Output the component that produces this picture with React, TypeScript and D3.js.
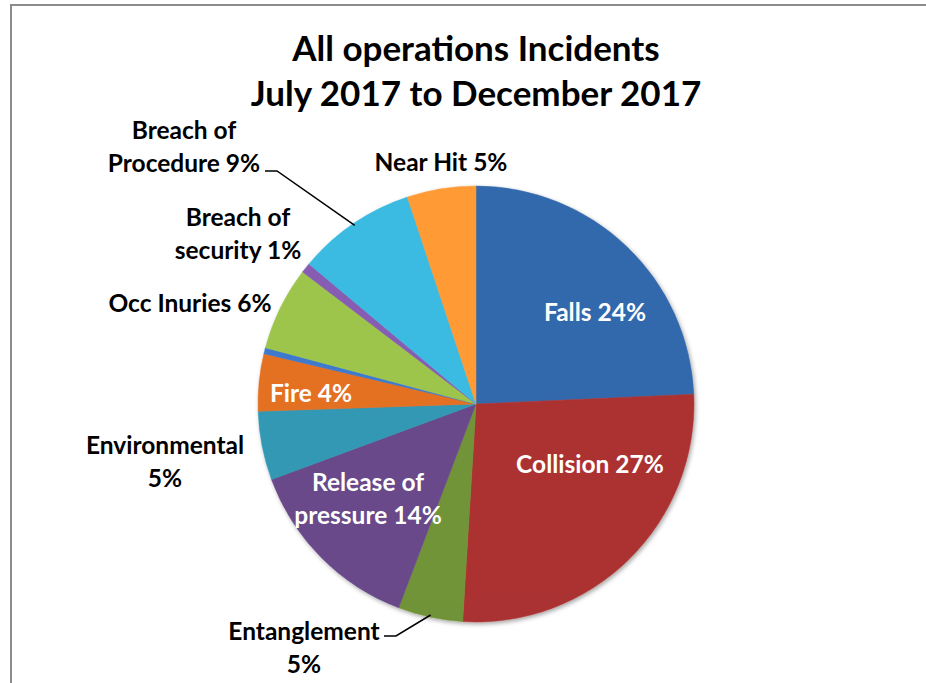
import React from "react";
import * as d3 from "d3";

const categories = [
  "Falls",
  "Collision",
  "Entanglement",
  "Release of pressure",
  "Environmental",
  "Fire",
  "Other",
  "Occ Inuries",
  "Breach of security",
  "Breach of Procedure",
  "Near Hit",
];
const values = [24.3, 26.7, 4.8, 13.6, 5.1, 4.25, 0.45, 6.2, 0.75, 8.8, 5.1];
const labelLines = [
  ["Falls 24%"],
  ["Collision 27%"],
  ["Entanglement", "5%"],
  ["Release of", "pressure 14%"],
  ["Environmental", "5%"],
  ["Fire 4%"],
  [],
  ["Occ Inuries 6%"],
  ["Breach of", "security 1%"],
  ["Breach of", "Procedure 9%"],
  ["Near Hit 5%"],
];
const title = ["All operations Incidents", "July 2017 to December 2017"];

// styles / layout
const colors = [
  "#3063a3",
  "#a32f2f",
  "#6c8c35",
  "#644582",
  "#2e90aa",
  "#d8691f",
  "#3b74c2",
  "#96bb48",
  "#8058ab",
  "#38b0d6",
  "#f99232",
];
const labelLayout: { x: number; y: number; white: boolean }[] = [
  { x: 595, y: 321, white: true },
  { x: 590, y: 473, white: true },
  { x: 304, y: 640, white: false },
  { x: 368, y: 491, white: true },
  { x: 165, y: 454, white: false },
  { x: 311, y: 402, white: true },
  { x: 0, y: 0, white: false },
  { x: 190, y: 312, white: false },
  { x: 238, y: 226, white: false },
  { x: 184, y: 139, white: false },
  { x: 441, y: 171, white: false },
];
const leaders: { idx: number; pts: [number, number][] }[] = [
  { idx: 9, pts: [[265, 171], [277, 171]] },
  { idx: 2, pts: [[384, 636], [396, 636]] },
];

const W = 926;
const H = 683;
const cx = 476;
const cy = 404;
const R = 218;
const FONT = "Lato, 'Open Sans', 'Liberation Sans', sans-serif";

export default function App() {
  const pie = d3
    .pie<number>()
    .sort(null)
    .value((d) => d);
  const arcs = pie(values);
  const arc = d3.arc<d3.PieArcDatum<number>>().innerRadius(0).outerRadius(R);

  const edgePoint = (idx: number, f: number) => {
    const a = arcs[idx];
    const ang = a.startAngle + (a.endAngle - a.startAngle) * f;
    return [cx + Math.sin(ang) * R * 0.99, cy - Math.cos(ang) * R * 0.99] as [number, number];
  };

  return (
    <svg
      width={W}
      height={H}
      style={{ position: "absolute", left: 0, top: 0, background: "#fff" }}
    >
      <defs>
        {colors.map((c, i) => {
          const top = d3.color(c)!.brighter(0.15).formatHex();
          const bot = d3.color(c)!.darker(0.35).formatHex();
          return (
            <linearGradient
              key={i}
              id={`g${i}`}
              gradientUnits="userSpaceOnUse"
              x1={0}
              y1={cy - R}
              x2={0}
              y2={cy + R}
            >
              <stop offset="0%" stopColor={top} />
              <stop offset="100%" stopColor={bot} />
            </linearGradient>
          );
        })}
        <filter id="shadow" x="-10%" y="-10%" width="120%" height="120%">
          <feDropShadow dx="1.5" dy="2" stdDeviation="2" floodColor="#000" floodOpacity="0.35" />
        </filter>
      </defs>
      <rect x={11} y={5} width={W + 10} height={H + 10} fill="#fff" stroke="#8c8c8c" strokeWidth={2} />
      <g fontFamily={FONT} fontWeight="bold" fill="#000" textAnchor="middle">
        <text x={cx} y={61} fontSize={35}>
          {title[0]}
        </text>
        <text x={cx} y={106} fontSize={35}>
          {title[1]}
        </text>
      </g>
      <g transform={`translate(${cx},${cy})`} filter="url(#shadow)">
        {arcs.map((a, i) => (
          <path key={i} d={arc(a) || ""} fill={`url(#g${i})`} stroke={`url(#g${i})`} strokeWidth={0.5} />
        ))}
      </g>
      {leaders.map((l, k) => {
        const end = edgePoint(l.idx, 0.5);
        const pts = [...l.pts, end];
        return (
          <polyline
            key={k}
            points={pts.map((p) => p.join(",")).join(" ")}
            fill="none"
            stroke="#000"
            strokeWidth={1.5}
          />
        );
      })}
      <g fontFamily={FONT} fontWeight="bold" fontSize={24.5} textAnchor="middle">
        {labelLines.map((lines, i) =>
          lines.map((t, j) => (
            <text
              key={`${i}-${j}`}
              x={labelLayout[i].x}
              y={labelLayout[i].y + j * 33}
              fill={labelLayout[i].white ? "#fff" : "#000"}
            >
              {t}
            </text>
          ))
        )}
      </g>
    </svg>
  );
}
